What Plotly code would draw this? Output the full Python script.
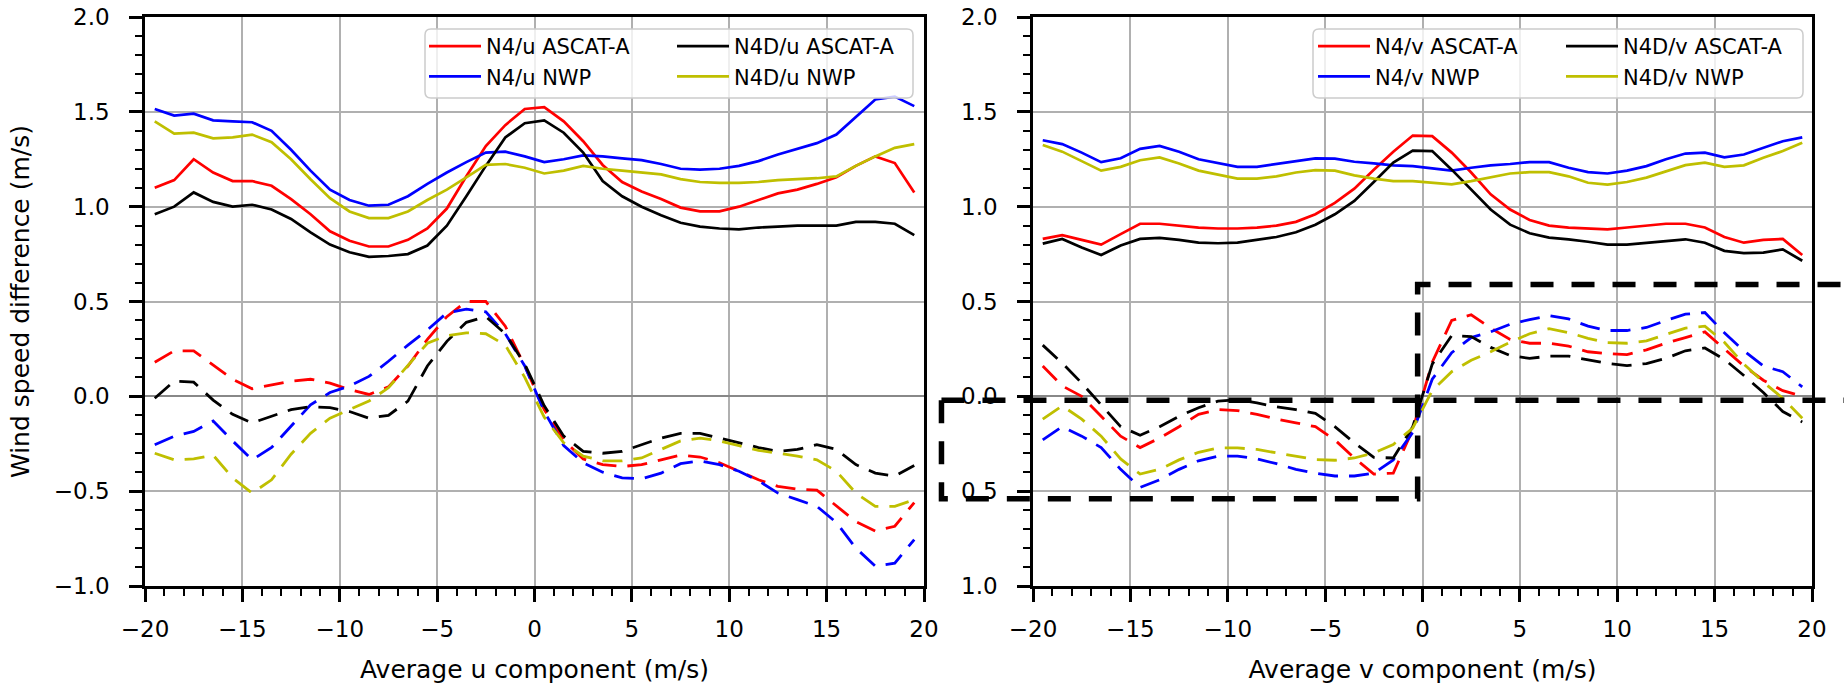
import plotly.graph_objects as go

# Bin centres of the averaged wind component (m/s)
bins = [-19.5, -18.5, -17.5, -16.5, -15.5, -14.5, -13.5, -12.5, -11.5, -10.5,
        -9.5, -8.5, -7.5, -6.5, -5.5, -4.5, -3.5, -2.5, -1.5, -0.5,
        0.5, 1.5, 2.5, 3.5, 4.5, 5.5, 6.5, 7.5, 8.5, 9.5,
        10.5, 11.5, 12.5, 13.5, 14.5, 15.5, 16.5, 17.5, 18.5, 19.5]

# ---- u component: standard deviation of the difference (solid) ----
u_n4_ascat_sd = [1.10, 1.14, 1.25, 1.18, 1.135, 1.135, 1.11, 1.04, 0.96, 0.87,
                 0.82, 0.79, 0.79, 0.825, 0.885, 0.99, 1.16, 1.32, 1.43, 1.515,
                 1.525, 1.45, 1.345, 1.22, 1.13, 1.08, 1.04, 0.995, 0.975, 0.975,
                 1.0, 1.035, 1.07, 1.09, 1.12, 1.155, 1.215, 1.265, 1.23, 1.075]
u_n4_nwp_sd = [1.515, 1.48, 1.49, 1.455, 1.45, 1.445, 1.40, 1.30, 1.19, 1.09,
               1.035, 1.005, 1.01, 1.055, 1.12, 1.18, 1.235, 1.285, 1.29, 1.265,
               1.235, 1.25, 1.27, 1.265, 1.255, 1.245, 1.225, 1.20, 1.195, 1.20,
               1.215, 1.24, 1.275, 1.305, 1.335, 1.38, 1.475, 1.565, 1.58, 1.53]
u_n4d_ascat_sd = [0.96, 1.0, 1.075, 1.025, 1.0, 1.01, 0.985, 0.935, 0.865, 0.80,
                  0.76, 0.735, 0.74, 0.75, 0.795, 0.90, 1.055, 1.215, 1.365, 1.44,
                  1.455, 1.39, 1.285, 1.135, 1.055, 1.0, 0.955, 0.915, 0.895, 0.885,
                  0.88, 0.89, 0.895, 0.90, 0.90, 0.90, 0.92, 0.92, 0.91, 0.85]
u_n4d_nwp_sd = [1.45, 1.385, 1.39, 1.36, 1.365, 1.38, 1.34, 1.25, 1.145, 1.045,
                0.975, 0.94, 0.94, 0.975, 1.035, 1.09, 1.155, 1.22, 1.225, 1.205,
                1.175, 1.19, 1.215, 1.20, 1.19, 1.18, 1.17, 1.145, 1.13, 1.125,
                1.125, 1.13, 1.14, 1.145, 1.15, 1.16, 1.215, 1.265, 1.31, 1.33]

# ---- u component: mean difference / bias (dashed) ----
u_n4_ascat_bias = [0.18, 0.24, 0.24, 0.165, 0.09, 0.04, 0.06, 0.08, 0.09, 0.07,
                   0.035, 0.01, 0.05, 0.16, 0.30, 0.42, 0.50, 0.50, 0.37, 0.16,
                   -0.07, -0.23, -0.33, -0.36, -0.37, -0.36, -0.335, -0.31, -0.32, -0.35,
                   -0.395, -0.44, -0.475, -0.49, -0.495, -0.58, -0.66, -0.71, -0.685, -0.56]
u_n4_nwp_bias = [-0.255, -0.21, -0.185, -0.13, -0.235, -0.335, -0.27, -0.16, -0.045, 0.02,
                 0.055, 0.105, 0.185, 0.27, 0.35, 0.44, 0.46, 0.445, 0.33, 0.16,
                 -0.08, -0.26, -0.35, -0.40, -0.43, -0.435, -0.405, -0.355, -0.34, -0.36,
                 -0.395, -0.445, -0.51, -0.545, -0.58, -0.665, -0.80, -0.895, -0.88, -0.755]
u_n4d_ascat_bias = [-0.01, 0.08, 0.075, -0.02, -0.095, -0.14, -0.105, -0.07, -0.055, -0.06,
                    -0.08, -0.115, -0.10, -0.025, 0.16, 0.29, 0.39, 0.42, 0.33, 0.17,
                    -0.05, -0.21, -0.29, -0.30, -0.29, -0.255, -0.22, -0.195, -0.195, -0.22,
                    -0.245, -0.27, -0.29, -0.28, -0.255, -0.28, -0.36, -0.405, -0.42, -0.365]
u_n4d_nwp_bias = [-0.30, -0.335, -0.33, -0.31, -0.43, -0.51, -0.44, -0.305, -0.195, -0.115,
                  -0.07, -0.025, 0.045, 0.165, 0.28, 0.32, 0.335, 0.33, 0.27, 0.10,
                  -0.11, -0.245, -0.315, -0.34, -0.34, -0.325, -0.28, -0.235, -0.22, -0.235,
                  -0.26, -0.285, -0.30, -0.315, -0.335, -0.395, -0.51, -0.58, -0.58, -0.545]

# ---- v component: standard deviation of the difference (solid) ----
v_n4_ascat_sd = [0.83, 0.85, 0.825, 0.80, 0.855, 0.91, 0.91, 0.90, 0.89, 0.885,
                 0.885, 0.89, 0.90, 0.92, 0.96, 1.02, 1.095, 1.195, 1.29, 1.375,
                 1.372, 1.285, 1.18, 1.065, 0.985, 0.93, 0.90, 0.89, 0.885, 0.88,
                 0.89, 0.90, 0.91, 0.91, 0.89, 0.84, 0.81, 0.825, 0.83, 0.745]
v_n4_nwp_sd = [1.35, 1.33, 1.285, 1.235, 1.255, 1.305, 1.32, 1.29, 1.25, 1.23,
               1.21, 1.21, 1.225, 1.24, 1.255, 1.253, 1.237, 1.228, 1.218, 1.214,
               1.20, 1.19, 1.205, 1.218, 1.225, 1.235, 1.235, 1.205, 1.182, 1.175,
               1.19, 1.214, 1.25, 1.28, 1.285, 1.26, 1.275, 1.31, 1.345, 1.365]
v_n4d_ascat_sd = [0.805, 0.83, 0.785, 0.745, 0.795, 0.83, 0.835, 0.825, 0.81, 0.807,
                  0.81, 0.825, 0.84, 0.865, 0.905, 0.96, 1.03, 1.13, 1.232, 1.295,
                  1.293, 1.195, 1.09, 0.985, 0.905, 0.86, 0.837, 0.828, 0.815, 0.80,
                  0.80, 0.81, 0.82, 0.828, 0.81, 0.767, 0.755, 0.758, 0.775, 0.715]
v_n4d_nwp_sd = [1.325, 1.29, 1.24, 1.19, 1.21, 1.245, 1.26, 1.228, 1.19, 1.168,
                1.148, 1.148, 1.16, 1.18, 1.193, 1.19, 1.165, 1.148, 1.135, 1.135,
                1.126, 1.118, 1.135, 1.153, 1.175, 1.182, 1.182, 1.16, 1.126, 1.116,
                1.13, 1.153, 1.188, 1.219, 1.232, 1.21, 1.218, 1.258, 1.293, 1.337]

# ---- v component: mean difference / bias (dashed) ----
v_n4_ascat_bias = [0.16, 0.055, 0.0, -0.105, -0.21, -0.27, -0.22, -0.16, -0.095, -0.07,
                   -0.075, -0.095, -0.12, -0.14, -0.16, -0.23, -0.325, -0.41, -0.405, -0.175,
                   0.18, 0.40, 0.43, 0.36, 0.30, 0.28, 0.28, 0.265, 0.235, 0.225,
                   0.22, 0.245, 0.28, 0.31, 0.34, 0.25, 0.16, 0.085, 0.03, 0.0]
v_n4_nwp_bias = [-0.23, -0.16, -0.21, -0.27, -0.385, -0.48, -0.44, -0.385, -0.34, -0.315,
                 -0.315, -0.33, -0.355, -0.385, -0.405, -0.42, -0.42, -0.405, -0.335, -0.19,
                 0.09, 0.23, 0.31, 0.34, 0.38, 0.405, 0.425, 0.408, 0.37, 0.347,
                 0.347, 0.363, 0.40, 0.433, 0.442, 0.335, 0.24, 0.16, 0.13, 0.05]
v_n4d_ascat_bias = [0.27, 0.175, 0.07, -0.045, -0.16, -0.205, -0.16, -0.105, -0.06, -0.025,
                    -0.018, -0.035, -0.055, -0.07, -0.09, -0.16, -0.245, -0.322, -0.325, -0.16,
                    0.17, 0.32, 0.315, 0.258, 0.215, 0.20, 0.212, 0.212, 0.192, 0.173,
                    0.162, 0.173, 0.20, 0.24, 0.255, 0.195, 0.11, 0.02, -0.08, -0.135]
v_n4d_nwp_bias = [-0.12, -0.05, -0.12, -0.21, -0.33, -0.41, -0.385, -0.335, -0.295, -0.272,
                  -0.272, -0.28, -0.298, -0.316, -0.333, -0.337, -0.325, -0.298, -0.254, -0.167,
                  0.03, 0.13, 0.19, 0.235, 0.285, 0.33, 0.357, 0.336, 0.306, 0.283,
                  0.28, 0.292, 0.328, 0.36, 0.37, 0.285, 0.17, 0.075, -0.01, -0.115]

x_ticks = [-20, -15, -10, -5, 0, 5, 10, 15, 20]
y_ticks = [-1.0, -0.5, 0.0, 0.5, 1.0, 1.5, 2.0]
y_ticktext_right = ["1.0", "0.5", "0.0", "0.5", "1.0", "1.5", "2.0"]

RED, BLUE, BLACK, OLIVE = "#ff0000", "#0000ff", "#000000", "#bfbf00"
FONT = "DejaVu Sans"

# ---- page geometry (pixels) ----
W, H = 1844, 684
ML, MR, MT, MB = 145, 32, 17, 98
PW, PH = W - ML - MR, H - MT - MB
DOM_U = [0.0, 779 / PW]
DOM_V = [888 / PW, 1.0]


def px_x(px):
    return (px - ML) / PW


def px_y(py):
    return (H - MB - py) / PH


fig = go.Figure()

panels = [
    ("x", "y", [
        ("N4/u ASCAT-A", RED, u_n4_ascat_sd, u_n4_ascat_bias, "legend"),
        ("N4/u NWP", BLUE, u_n4_nwp_sd, u_n4_nwp_bias, "legend"),
        ("N4D/u ASCAT-A", BLACK, u_n4d_ascat_sd, u_n4d_ascat_bias, "legend2"),
        ("N4D/u NWP", OLIVE, u_n4d_nwp_sd, u_n4d_nwp_bias, "legend2"),
    ]),
    ("x2", "y2", [
        ("N4/v ASCAT-A", RED, v_n4_ascat_sd, v_n4_ascat_bias, "legend3"),
        ("N4/v NWP", BLUE, v_n4_nwp_sd, v_n4_nwp_bias, "legend3"),
        ("N4D/v ASCAT-A", BLACK, v_n4d_ascat_sd, v_n4d_ascat_bias, "legend4"),
        ("N4D/v NWP", OLIVE, v_n4d_nwp_sd, v_n4d_nwp_bias, "legend4"),
    ]),
]

for xa, ya, series in panels:
    for name, color, sd, bias, leg in series:
        fig.add_trace(go.Scatter(
            x=bins, y=sd, mode="lines", name=name, legend=leg,
            line=dict(color=color, width=2.7), xaxis=xa, yaxis=ya))
    for name, color, sd, bias, leg in series:
        fig.add_trace(go.Scatter(
            x=bins, y=bias, mode="lines", name=name, showlegend=False,
            line=dict(color=color, width=2.8, dash="20px,11px"), xaxis=xa, yaxis=ya))


def x_axis(domain, title, anchor):
    return dict(
        domain=domain, anchor=anchor, range=[-20, 20], automargin=False,
        tickmode="array", tickvals=x_ticks,
        ticks="outside", ticklen=13, tickwidth=2.5, tickcolor="black",
        ticklabelstandoff=8,
        showline=True, linecolor="black", linewidth=2.5, mirror=True,
        showgrid=True, gridcolor="#b0b0b0", gridwidth=2, zeroline=False,
        minor=dict(dtick=1, ticks="outside", ticklen=7, tickwidth=1.8,
                   tickcolor="black", showgrid=False),
        tickfont=dict(family=FONT, size=23, color="black"),
        title=dict(text=title, font=dict(family=FONT, size=25, color="black"), standoff=20),
    )


def y_axis(anchor, ticktext=None, title=None):
    ax = dict(
        domain=[0, 1], anchor=anchor, range=[-1, 2], automargin=False,
        tickmode="array", tickvals=y_ticks,
        ticks="outside", ticklen=13, tickwidth=2.5, tickcolor="black",
        ticklabelstandoff=15,
        showline=True, linecolor="black", linewidth=2.5, mirror=True,
        showgrid=True, gridcolor="#b0b0b0", gridwidth=2,
        zeroline=True, zerolinecolor="#888888", zerolinewidth=2,
        minor=dict(dtick=0.1, ticks="outside", ticklen=7, tickwidth=1.8,
                   tickcolor="black", showgrid=False),
        tickfont=dict(family=FONT, size=23, color="black"),
    )
    if ticktext is not None:
        ax["ticktext"] = ticktext
    else:
        ax["tickformat"] = ".1f"
    if title:
        ax["title"] = dict(text=title, font=dict(family=FONT, size=25, color="black"), standoff=18)
    return ax


# legend frames (rounded, translucent white) drawn behind the two-column legends
def rounded_box(x0, y0, x1, y1, r=6):
    X0, X1 = px_x(x0), px_x(x1)
    Y0, Y1 = px_y(y0), px_y(y1)
    rx, ry = r / PW, r / PH
    return (f"M{X0 + rx},{Y0} L{X1 - rx},{Y0} Q{X1},{Y0} {X1},{Y0 - ry} "
            f"L{X1},{Y1 + ry} Q{X1},{Y1} {X1 - rx},{Y1} L{X0 + rx},{Y1} "
            f"Q{X0},{Y1} {X0},{Y1 + ry} L{X0},{Y0 - ry} Q{X0},{Y0} {X0 + rx},{Y0} Z")


shapes = []
for bx0, bx1 in [(425, 913), (1313, 1803)]:
    shapes.append(dict(type="path", xref="paper", yref="paper", layer="above",
                       path=rounded_box(bx0, 29, bx1, 98),
                       fillcolor="rgba(255,255,255,0.8)",
                       line=dict(color="#cccccc", width=1.5)))


# highlight frame on the v panel, given in v-panel data units
def vx(x):
    return DOM_V[0] + (x + 20) / 40 * (DOM_V[1] - DOM_V[0])


def vy(y):
    return (y + 1) / 3


box_left, box_mid, box_right = -24.7, -0.25, 21.8
box_top, box_zero, box_bottom = 0.59, -0.02, -0.54
frame_style = dict(color="black", width=5.5, dash="23px,18px")
shapes.append(dict(type="path", xref="paper", yref="paper", layer="above",
                   path=f"M{vx(box_left)},{vy(box_zero)} L{vx(box_right)},{vy(box_zero)}",
                   line=frame_style))
shapes.append(dict(type="path", xref="paper", yref="paper", layer="above",
                   path=(f"M{vx(box_left)},{vy(box_zero)} L{vx(box_left)},{vy(box_bottom)} "
                         f"L{vx(box_mid)},{vy(box_bottom)} L{vx(box_mid)},{vy(box_top)} "
                         f"L{vx(box_right)},{vy(box_top)}"),
                   line=frame_style))

legend_common = dict(bgcolor="rgba(0,0,0,0)", borderwidth=0,
                     font=dict(family=FONT, size=21, color="black"),
                     xanchor="left", yanchor="top", y=px_y(26), itemwidth=52,
                     orientation="v")

fig.update_layout(
    width=W, height=H,
    margin=dict(l=ML, r=MR, t=MT, b=MB, pad=0, autoexpand=False),
    paper_bgcolor="white", plot_bgcolor="white",
    font=dict(family=FONT, color="black"),
    xaxis=x_axis(DOM_U, "Average u component (m/s)", "y"),
    xaxis2=x_axis(DOM_V, "Average v component (m/s)", "y2"),
    yaxis=y_axis("x", title="Wind speed difference (m/s)"),
    yaxis2=y_axis("x2", ticktext=y_ticktext_right),
    legend=dict(legend_common, x=px_x(424)),
    legend2=dict(legend_common, x=px_x(672)),
    legend3=dict(legend_common, x=px_x(1313)),
    legend4=dict(legend_common, x=px_x(1561)),
    shapes=shapes,
    showlegend=True,
)

fig.write_html("out.html")
